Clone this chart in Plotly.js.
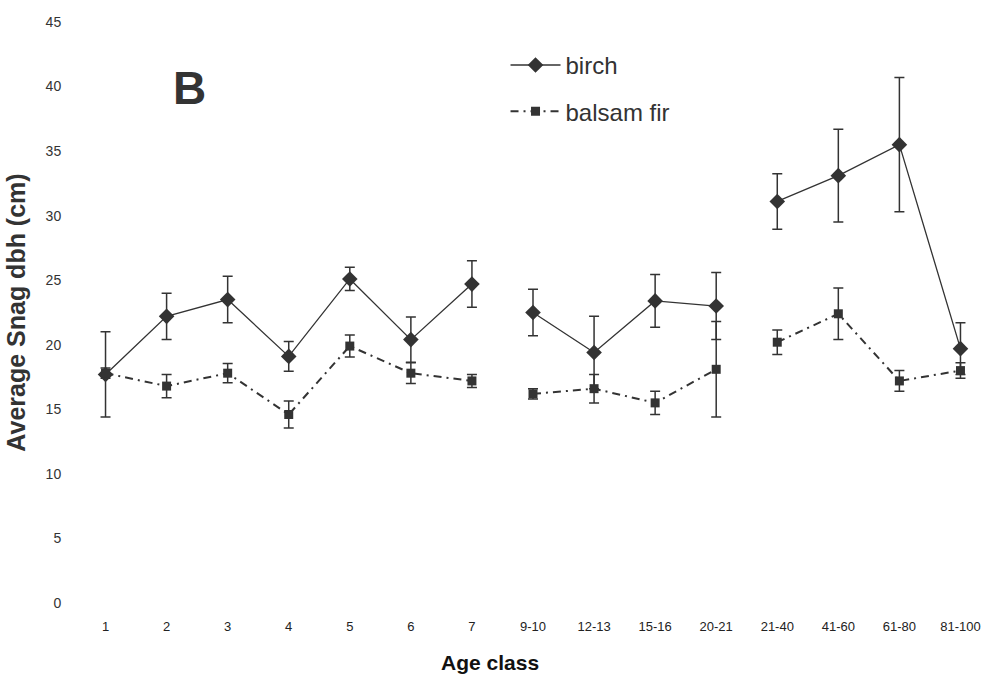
<!DOCTYPE html>
<html>
<head>
<meta charset="utf-8">
<script src="https://cdn.plot.ly/plotly-3.0.1.min.js"></script>
<style>html,body{margin:0;padding:0;background:#fff;}#chart{width:992px;height:682px;}</style>
</head>
<body>
<div id="chart"></div>
<script>
const categories = ['1','2','3','4','5','6','7','9-10','12-13','15-16','20-21','21-40','41-60','61-80','81-100'];
const birch    = [17.7, 22.2, 23.5, 19.1, 25.1, 20.4, 24.7, 22.5, 19.4, 23.4, 23.0, 31.1, 33.1, 35.5, 19.7];
const birchErr = [3.3, 1.8, 1.8, 1.15, 0.9, 1.75, 1.8, 1.8, 2.8, 2.05, 2.6, 2.15, 3.6, 5.2, 2.0];
const fir      = [17.8, 16.8, 17.8, 14.6, 19.9, 17.8, 17.2, 16.2, 16.6, 15.5, 18.1, 20.2, 22.4, 17.2, 18.0];
const firErr   = [0.4, 0.9, 0.75, 1.05, 0.85, 0.8, 0.5, 0.4, 1.1, 0.9, 3.7, 0.95, 2.0, 0.8, 0.6];
// categories where a new line segment starts (lines are broken before them)
const segmentStarts = ['9-10', '21-40'];

const ink = '#333333';

function segments() {
  const starts = [0].concat(segmentStarts.map(c => categories.indexOf(c)));
  const out = [];
  for (let i = 0; i < starts.length; i++) {
    out.push([starts[i], i + 1 < starts.length ? starts[i + 1] : categories.length]);
  }
  return out;
}

function seriesTraces(name, values, errs, marker, line) {
  return segments().map((seg, k) => ({
    type: 'scatter',
    mode: 'lines+markers',
    name: name,
    legendgroup: name,
    showlegend: k === 0,
    x: categories.slice(seg[0], seg[1]),
    y: values.slice(seg[0], seg[1]),
    error_y: {type: 'data', array: errs.slice(seg[0], seg[1]), visible: true, color: ink, thickness: 1.5, width: 5},
    marker: marker,
    line: line
  }));
}

const traces = []
  .concat(seriesTraces('birch', birch, birchErr, {symbol: 'diamond', size: 12, color: ink}, {color: ink, width: 1.3}))
  .concat(seriesTraces('balsam fir', fir, firErr, {symbol: 'square', size: 9, color: ink}, {color: ink, width: 2, dash: '8px,5px,2px,5px'}));

const layout = {
  width: 992, height: 682,
  margin: {l: 75, r: 1, t: 22, b: 79},
  paper_bgcolor: '#ffffff', plot_bgcolor: '#ffffff',
  showlegend: true,
  font: {family: 'Arial, Liberation Sans, sans-serif', color: ink},
  xaxis: {
    type: 'category', categoryorder: 'array', categoryarray: categories,
    range: [-0.5, 14.5],
    showgrid: false, zeroline: false, showline: false,
    ticks: 'outside', ticklen: 11, tickcolor: 'rgba(0,0,0,0)',
    tickfont: {family: 'Arial, Liberation Sans, sans-serif', size: 13, color: '#222'}
  },
  yaxis: {
    range: [0, 45], dtick: 5,
    showgrid: false, zeroline: false, showline: false,
    ticks: 'outside', ticklen: 10, tickcolor: 'rgba(0,0,0,0)',
    tickfont: {family: 'Arial, Liberation Sans, sans-serif', size: 14, color: '#333'},
    title: {text: 'Average Snag dbh (cm)', standoff: 12, font: {family: 'Arial, Liberation Sans, sans-serif', size: 25, color: ink, weight: 'bold'}}
  },
  legend: {
    x: 0.47, y: 0.964, xanchor: 'left', yanchor: 'top',
    bgcolor: 'rgba(0,0,0,0)',
    font: {family: 'Arial, Liberation Sans, sans-serif', size: 24, color: ink},
    tracegroupgap: 12, itemwidth: 50
  },
  annotations: [
    {text: '<b>B</b>', xref: 'paper', yref: 'paper', x: 0.1255, y: 0.886, xanchor: 'center', yanchor: 'middle', showarrow: false,
     font: {family: 'Arial, Liberation Sans, sans-serif', size: 46, color: ink}},
    {text: '<b>Age class</b>', xref: 'paper', yref: 'paper', x: 0.453, y: -0.103, xanchor: 'center', yanchor: 'middle', showarrow: false,
     font: {family: 'Arial, Liberation Sans, sans-serif', size: 21, color: '#111'}}
  ]
};

Plotly.newPlot('chart', traces, layout, {displayModeBar: false, staticPlot: true});
</script>
</body>
</html>
